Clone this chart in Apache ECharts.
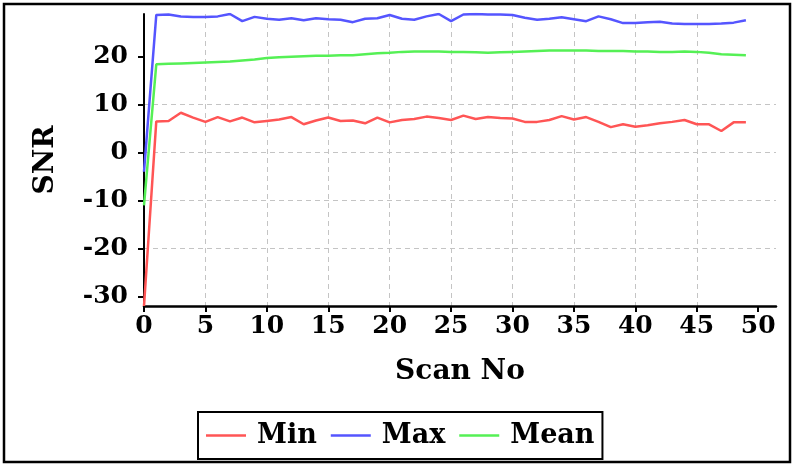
<!DOCTYPE html>
<html>
<head>
<meta charset="utf-8">
<script src="https://cdn.jsdelivr.net/npm/echarts@6/dist/echarts.min.js"></script>
<style>
  html, body { margin: 0; padding: 0; background: #fff; }
  #chart { width: 794px; height: 466px; }
</style>
</head>
<body>
<div id="chart"></div>
<script>
// scan numbers 0..49
const scanNo = Array.from({ length: 50 }, (_, i) => i);

const minSnr = [
  -32, 6.5, 6.6, 8.3, 7.3, 6.4, 7.4, 6.5, 7.3, 6.3,
  6.6, 6.9, 7.4, 5.9, 6.7, 7.3, 6.6, 6.7, 6.1, 7.3,
  6.3, 6.8, 7.0, 7.5, 7.2, 6.8, 7.7, 7.0, 7.4, 7.2,
  7.1, 6.4, 6.4, 6.8, 7.6, 6.9, 7.4, 6.4, 5.3, 5.9,
  5.4, 5.7, 6.1, 6.4, 6.8, 5.9, 5.9, 4.5, 6.3, 6.3
];
const maxSnr = [
  -4, 28.7, 28.8, 28.4, 28.3, 28.3, 28.4, 28.9, 27.4, 28.3,
  27.9, 27.7, 28.0, 27.6, 28.0, 27.8, 27.7, 27.2, 27.9, 28.0,
  28.7, 27.9, 27.7, 28.4, 28.9, 27.4, 28.8, 28.9, 28.8, 28.8,
  28.7, 28.1, 27.7, 27.9, 28.2, 27.8, 27.4, 28.4, 27.8, 27.0,
  27.0, 27.2, 27.3, 26.9, 26.8, 26.8, 26.8, 26.9, 27.1, 27.6
];
const meanSnr = [
  -11, 18.4, 18.5, 18.6, 18.7, 18.8, 18.9, 19.0, 19.2, 19.4,
  19.7, 19.9, 20.0, 20.1, 20.2, 20.2, 20.3, 20.3, 20.5, 20.7,
  20.8, 21.0, 21.1, 21.1, 21.1, 21.0, 21.0, 20.9, 20.8, 20.9,
  21.0, 21.1, 21.2, 21.3, 21.3, 21.3, 21.3, 21.2, 21.2, 21.2,
  21.1, 21.1, 21.0, 21.0, 21.1, 21.0, 20.8, 20.5, 20.4, 20.3
];

const xTicks = [0, 5, 10, 15, 20, 25, 30, 35, 40, 45, 50];
const yTicks = [-30, -20, -10, 0, 10, 20];

const FONT = '"DejaVu Serif", serif';
const gridLine = { show: true, showMinLine: false, showMaxLine: false, lineStyle: { color: '#c4c4c4', width: 1, type: [5, 4] } };

const pairs = (ys) => scanNo.map((x, i) => [x, ys[i]]);

const chart = echarts.init(document.getElementById('chart'), null, { renderer: 'canvas' });
chart.setOption({
  animation: false,
  textStyle: { fontFamily: FONT, fontWeight: 'bold', color: '#000' },
  grid: { left: 144, right: 18, top: 14, bottom: 160 },
  graphic: [{
    type: 'rect', silent: true, z: 100,
    shape: { x: 4, y: 4, width: 786, height: 458 },
    style: { fill: 'none', stroke: '#000', lineWidth: 2.5 }
  }],
  legend: {
    left: 198, top: 412,
    padding: [7, 8, 7, 8],
    borderColor: '#000', borderWidth: 2,
    icon: 'rect', itemWidth: 40, itemHeight: 2.5, itemGap: 14,
    textStyle: { fontFamily: FONT, fontWeight: 'bold', fontSize: 27, lineHeight: 33, color: '#000', padding: [0, 0, 0, 6] },
    data: ['Min', 'Max', 'Mean']
  },
  xAxis: {
    type: 'value', min: 0, max: (e) => e.max * 1.05,
    name: 'Scan No', nameLocation: 'middle', nameGap: 52,
    nameTextStyle: { fontFamily: FONT, fontWeight: 'bold', fontSize: 28, color: '#000' },
    axisLine: { onZero: false, lineStyle: { color: '#000', width: 2.5 } },
    axisTick: { customValues: xTicks, length: 6, lineStyle: { color: '#000', width: 2 } },
    axisLabel: { customValues: xTicks, margin: 8, fontFamily: FONT, fontWeight: 'bold', fontSize: 25, color: '#000' },
    splitLine: gridLine
  },
  yAxis: {
    type: 'value', min: 'dataMin', max: 'dataMax',
    name: 'SNR', nameLocation: 'middle', nameGap: 84, nameRotate: 90,
    nameTextStyle: { fontFamily: FONT, fontWeight: 'bold', fontSize: 28, color: '#000' },
    axisLine: { show: true, onZero: false, lineStyle: { color: '#000', width: 2 } },
    axisTick: { show: true, customValues: yTicks, length: 6, lineStyle: { color: '#000', width: 2 } },
    axisLabel: { customValues: yTicks, margin: 16, fontFamily: FONT, fontWeight: 'bold', fontSize: 25, color: '#000' },
    splitLine: gridLine
  },
  series: [
    { name: 'Min', type: 'line', symbol: 'none', data: pairs(minSnr), itemStyle: { color: '#ff5555' }, lineStyle: { color: '#ff5555', width: 2.5 } },
    { name: 'Max', type: 'line', symbol: 'none', data: pairs(maxSnr), itemStyle: { color: '#5555ff' }, lineStyle: { color: '#5555ff', width: 2.5 } },
    { name: 'Mean', type: 'line', symbol: 'none', data: pairs(meanSnr), itemStyle: { color: '#55f055' }, lineStyle: { color: '#55f055', width: 2.5 } }
  ]
});
</script>
</body>
</html>
